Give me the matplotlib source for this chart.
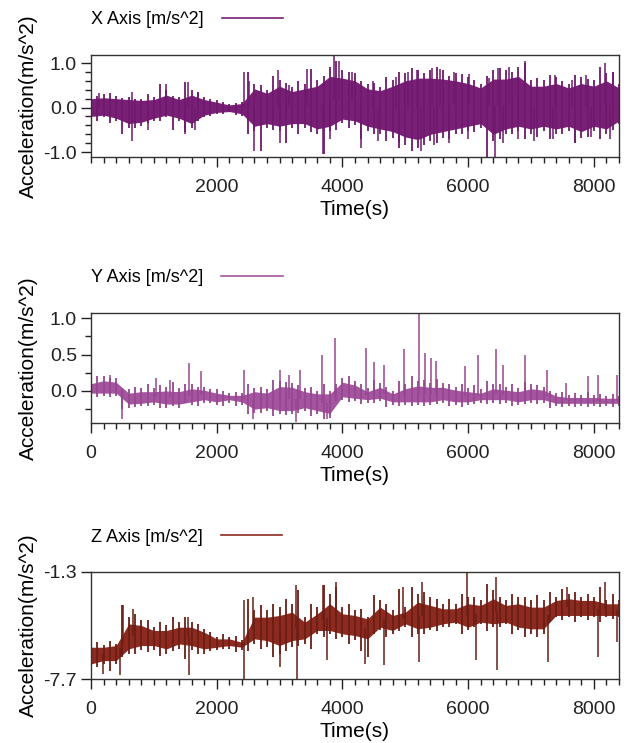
import matplotlib
matplotlib.use("Agg")
import matplotlib.pyplot as plt
import numpy as np
from matplotlib.lines import Line2D
from matplotlib.ticker import MultipleLocator, FixedLocator

plt.rcParams['font.family'] = ['Liberation Sans', 'DejaVu Sans']
plt.rcParams['axes.unicode_minus'] = False

# data: sample times (s); dense core band; outer extent at each sample and halfway between;
# isolated spikes (time, value)
t_grid = np.arange(0, 8401, 200)
t_half = t_grid[:-1] + 100

x_hi = [0.2, 0.22, 0.2, 0.18, 0.16, 0.18, 0.28, 0.18, 0.28, 0.18, 0.12, 0.06, 0.09, 0.42, 0.32,
        0.48, 0.36, 0.42, 0.48, 0.7, 0.66, 0.6, 0.42, 0.38, 0.48, 0.6, 0.66, 0.66, 0.64, 0.6,
        0.54, 0.44, 0.64, 0.64, 0.7, 0.48, 0.48, 0.54, 0.44, 0.54, 0.48, 0.6, 0.44]
x_lo = [-0.2, -0.17, -0.24, -0.36, -0.33, -0.24, -0.17, -0.24, -0.36, -0.17, -0.11, -0.09, -0.14,
        -0.42, -0.36, -0.42, -0.36, -0.36, -0.48, -0.42, -0.26, -0.3, -0.42, -0.48, -0.54, -0.66,
        -0.72, -0.6, -0.54, -0.48, -0.42, -0.36, -0.6, -0.48, -0.42, -0.48, -0.42, -0.48, -0.42,
        -0.54, -0.42, -0.48, -0.3]
x_out_hi = [0.27, 0.30, 0.27, 0.23, 0.20, 0.23, 0.39, 0.23, 0.39, 0.23, 0.16, 0.08, 0.12, 0.54,
            0.39, 0.61, 0.46, 0.54, 0.61, 0.92, 0.84, 0.77, 0.54, 0.46, 0.61, 0.77, 0.84, 0.84,
            0.84, 0.77, 0.69, 0.54, 0.84, 0.84, 0.92, 0.61, 0.61, 0.69, 0.54, 0.69, 0.61, 0.77, 0.54]
x_out_lo = [-0.26, -0.21, -0.30, -0.45, -0.41, -0.30, -0.21, -0.30, -0.45, -0.21, -0.14, -0.11,
            -0.18, -0.53, -0.45, -0.53, -0.45, -0.45, -0.6, -0.53, -0.35, -0.4, -0.52, -0.6,
            -0.68, -0.83, -0.9, -0.75, -0.68, -0.6, -0.52, -0.45, -0.75, -0.6, -0.52, -0.6,
            -0.52, -0.6, -0.52, -0.68, -0.52, -0.6, -0.37]
x_half_hi = [0.25, 0.33, 0.22, 0.2, 0.3, 0.54, 0.26, 0.57, 0.35, 0.2, 0.12, 0.1,
             0.8, 0.5, 0.7, 0.55, 0.6, 0.86, 0.7, 1.05,
             0.8, 0.6, 0.55, 0.68, 0.8, 0.88, 0.78, 0.9, 0.7, 0.75, 0.62, 0.7, 0.88, 0.8, 1.0,
             0.66, 0.72, 0.6, 0.74, 0.64, 0.9, 0.8]
x_half_lo = [-0.3, -0.35, -0.6, -0.45, -0.35, -0.3, -0.5, -0.55, -0.3, -0.2, -0.14, -0.16,
             -0.6, -0.98, -0.5, -0.79, -0.6, -0.55, -1.05, -0.5,
             -0.45, -0.7, -0.6, -0.75, -0.9, -0.98, -0.85, -0.8, -0.7, -0.6, -0.55, -1.1, -0.7,
             -0.6, -0.7, -0.65, -0.7, -0.6, -0.8, -0.65, -0.7, -0.5]
x_spike_t = [120, 650, 1195, 1540, 1700, 2440, 2520, 2980, 3150, 3440, 3870, 3950,
             4150, 4480, 4850, 5050, 5180, 5420, 5560, 5780, 6020, 6330, 6480, 6650, 6900,
             7380, 7650, 7880, 8170, 8300,
             650, 900, 1500, 1650, 2590, 3000, 3690, 3800, 4300, 4560, 4900,
             5250, 5450, 5700, 6000, 6430, 6560, 6800, 7050, 7350, 7700, 7950, 8250]
x_spike_v = [0.33, 0.35, 0.54, 0.57, 0.33, 0.80, 0.6, 0.84, 0.5, 0.86, 1.15, 1.05,
             0.8, 0.6, 0.68, 0.8, 0.85, 0.88, 0.86, 0.8, 0.75, 0.66, 0.88, 0.9, 1.05,
             0.74, 0.62, 0.72, 1.0, 0.8,
             -0.75, -0.5, -0.6, -0.5, -0.98, -0.79, -1.05, -0.7, -0.9, -0.75, -0.8,
             -0.98, -0.85, -0.8, -0.7, -1.1, -0.8, -0.7, -0.75, -0.7, -0.8, -0.65, -0.7]

y_hi = [0.1, 0.14, 0.12, -0.03, -0.01, -0.01, 0.0, -0.01, 0.03, 0.01, -0.03, -0.06, -0.06, -0.01,
        -0.03, 0.06, 0.05, -0.01, -0.04, -0.04, 0.12, 0.08, -0.01, 0.05, -0.04, 0.03, 0.07, 0.05,
        0.05, 0.01, -0.01, -0.03, 0.03, 0.01, -0.01, 0.03, 0.01, -0.07, -0.09, -0.09, -0.09,
        -0.1, -0.1]
y_lo = [-0.03, -0.03, -0.03, -0.18, -0.17, -0.15, -0.18, -0.18, -0.15, -0.12, -0.15, -0.12,
        -0.15, -0.25, -0.23, -0.27, -0.27, -0.23, -0.27, -0.31, -0.08, -0.1, -0.12, -0.1, -0.15,
        -0.15, -0.15, -0.15, -0.12, -0.15, -0.15, -0.12, -0.12, -0.12, -0.15, -0.12, -0.12,
        -0.17, -0.17, -0.17, -0.17, -0.17, -0.17]
y_out_hi = [0.16, 0.2, 0.18, 0.02, 0.04, 0.04, 0.06, 0.04, 0.09, 0.06, 0.02, -0.03, -0.03, 0.04,
            0.02, 0.13, 0.11, 0.04, 0.0, 0.0, 0.18, 0.13, 0.04, 0.11, 0.0, 0.09, 0.13, 0.11, 0.11,
            0.06, 0.04, 0.02, 0.09, 0.06, 0.04, 0.09, 0.06, -0.03, -0.05, -0.05, -0.05, -0.07, -0.07]
y_out_lo = [-0.07, -0.07, -0.07, -0.23, -0.21, -0.19, -0.23, -0.23, -0.19, -0.16, -0.19, -0.16,
            -0.19, -0.30, -0.28, -0.32, -0.32, -0.28, -0.32, -0.37, -0.12, -0.14, -0.16, -0.14,
            -0.19, -0.19, -0.19, -0.19, -0.16, -0.19, -0.19, -0.16, -0.16, -0.16, -0.19, -0.16,
            -0.16, -0.21, -0.21, -0.21, -0.21, -0.21, -0.21]
y_half_hi = [0.2, 0.18, 0.03, 0.06, 0.1, 0.08, 0.12, 0.1, 0.05, 0.03, 0.0, -0.01,
             0.1, 0.06, 0.15, 0.12, 0.08, 0.06, 0.1, 0.1,
             0.2, 0.1, 0.15, 0.06, 0.14, 0.2, 0.15, 0.16, 0.1, 0.1, 0.08, 0.14, 0.1, 0.1, 0.12,
             0.08, 0.0, -0.02, -0.03, -0.02, -0.04, -0.04]
y_half_lo = [-0.08, -0.08, -0.25, -0.22, -0.2, -0.24, -0.2, -0.17, -0.2, -0.17, -0.2, -0.2,
             -0.32, -0.3, -0.34, -0.33, -0.3, -0.35, -0.38, -0.14,
             -0.15, -0.18, -0.16, -0.22, -0.2, -0.21, -0.2, -0.18, -0.2, -0.22, -0.18, -0.18,
             -0.18, -0.2, -0.18, -0.18, -0.23, -0.22, -0.22, -0.22, -0.22, -0.22]
y_spike_t = [300, 497, 1037, 1250, 1566, 1757, 2430, 2580, 3010, 3150, 3260, 3320, 3672, 3750,
             3889, 4380, 4500, 4660, 4978, 5226, 5306, 5411, 5490, 5957, 6163, 6438, 6550, 6904,
             7253, 7554, 7900, 8068, 8375]
y_spike_v = [0.22, -0.38, 0.18, 0.15, 0.38, 0.28, 0.29, -0.39, 0.29, 0.22, -0.43, 0.29, 0.5,
             -0.39, 0.73, 0.59, 0.4, 0.35, 0.57, 1.05, 0.52, 0.45, 0.41, 0.34, 0.49, 0.57, 0.35,
             0.5, 0.29, 0.11, 0.2, 0.22, 0.22]

z_hi = [-5.8, -5.8, -5.7, -4.4, -4.5, -4.8, -4.8, -4.6, -4.6, -4.9, -5.3, -5.3, -5.5, -4.0, -4.0,
        -3.9, -3.7, -4.3, -3.8, -3.2, -3.8, -3.9, -4.1, -3.4, -3.9, -3.7, -3.1, -3.3, -3.5, -3.5,
        -3.2, -3.3, -2.9, -3.3, -3.2, -3.4, -3.4, -3.0, -2.9, -3.0, -3.0, -3.2, -3.2]
z_lo = [-6.8, -6.6, -6.6, -5.9, -5.7, -5.7, -5.9, -5.6, -5.7, -5.9, -5.8, -5.7, -5.8, -5.3, -5.4,
        -5.7, -5.4, -5.3, -4.8, -4.8, -5.0, -5.1, -5.3, -4.6, -4.8, -4.4, -4.7, -4.6, -4.4, -4.3,
        -4.6, -4.3, -4.4, -4.3, -4.6, -4.7, -4.7, -3.9, -3.9, -3.9, -3.9, -3.9, -3.9]
z_out_hi = [-5.69, -5.69, -5.59, -3.99, -4.19, -4.59, -4.49, -4.29, -4.29, -4.69, -5.19, -5.19,
            -5.39, -3.59, -3.59, -3.39, -3.19, -3.99, -3.39, -2.6, -3.39, -3.59, -3.99, -2.99,
            -3.59, -3.39, -2.6, -2.8, -3.19, -3.19, -2.8, -2.99, -2.4, -2.99, -2.8, -2.99, -2.99,
            -2.8, -2.6, -2.8, -2.8, -2.99, -2.99]
z_out_lo = [-6.98, -6.78, -6.78, -6.19, -5.99, -5.99, -6.19, -5.89, -5.99, -6.19, -5.99, -5.89,
            -5.99, -5.59, -5.79, -6.19, -5.79, -5.59, -4.99, -4.99, -5.19, -5.39, -6.39, -4.79,
            -4.99, -4.59, -4.99, -4.79, -4.59, -4.39, -4.79, -4.39, -4.59, -4.39, -4.79, -4.99,
            -4.99, -3.99, -3.99, -3.99, -3.99, -3.99, -3.99]
z_half_hi = [-5.5, -5.4, -3.3, -3.8, -4.2, -4.3, -4.0, -4.0, -4.4, -4.9, -5.0, -5.1,
             -2.9, -3.3, -3.2, -2.9, -2.4, -3.2, -2.1, -2.2,
             -3.2, -3.5, -2.7, -3.2, -2.3, -2.2, -2.5, -2.9, -2.9, -2.6, -2.8, -2.0, -2.8, -2.6,
             -2.8, -2.7, -2.5, -2.3, -2.5, -2.6, -2.2, -2.6]
z_half_lo = [-7.0, -7.2, -6.4, -6.2, -6.1, -6.3, -6.0, -6.5, -6.2, -6.0, -5.9, -6.1,
             -6.0, -5.9, -6.4, -6.0, -5.7, -5.9, -5.2, -5.3,
             -5.6, -6.0, -5.0, -5.2, -4.8, -5.2, -5.0, -4.8, -4.6, -5.0, -4.6, -4.8, -4.6, -5.0,
             -5.2, -5.2, -4.3, -4.2, -4.3, -4.2, -4.3, -4.1]
z_spike_t = [190, 455, 508, 667, 1540, 1560, 2430, 2440, 2582, 3010, 3259, 3275, 3693, 3750,
             3894, 4353, 4660, 4962, 5226, 5263, 5978, 6126, 6443, 6460, 7263, 7570, 8068, 8173,
             8375]
z_spike_v = [-7.38, -7.48, -3.29, -3.49, -3.99, -7.48, -7.68, -2.99, -2.8, -6.98, -2.1, -7.68,
             -2.1, -6.58, -1.9, -6.78, -6.88, -2.2, -6.68, -1.9, -1.3, -6.58, -1.6, -7.18, -6.68,
             -2.2, -6.38, -1.9, -5.49]

W, H = 628, 743
fig = plt.figure(figsize=(W / 100, H / 100), dpi=100)


def add_panel(top, bottom):
    return fig.add_axes([91 / W, 1 - bottom / H, 528 / W, (bottom - top) / H])


def draw(ax, hi, lo, out_hi, out_lo, half_hi, half_lo, st, sv, color, edge):
    hi = np.array(hi)
    lo = np.array(lo)
    ax.fill_between(t_grid, lo, hi, color=color, lw=0)
    ax.vlines(t_grid, out_lo, out_hi, color=edge, lw=1.3)
    ax.vlines(t_half, half_lo, half_hi, color=edge, lw=1.3)
    mid = np.interp(st, t_grid, (hi + lo) / 2)
    ax.vlines(st, mid, sv, color=edge, lw=1.1)
    ax.set_xlim(0, 8400)
    ax.xaxis.set_minor_locator(MultipleLocator(200))
    ax.tick_params(which='major', direction='out', length=7, width=1, labelsize=14, pad=3,
                   colors='#222222')
    ax.tick_params(which='minor', direction='out', length=4.5, width=1, colors='#222222')
    ax.tick_params(axis='x', which='major', pad=8.5)
    for s in ax.spines.values():
        s.set_color('#333333')
        s.set_linewidth(1)
    ax.set_xlabel('Time(s)', fontsize=15, labelpad=3)
    ax.set_ylabel('Acceleration(m/s^2)', fontsize=15)
    ax.yaxis.set_label_coords(-0.1, 0.5)
    return Line2D([], [], color=color, lw=1.2)


def add_legend(ax, h, text, height):
    ax.legend([h], [text], loc='center left', bbox_to_anchor=(0, 1 + 35 / height),
              frameon=False, markerfirst=False, handlelength=3.4, handletextpad=1.0,
              borderpad=0, borderaxespad=0, fontsize=13)


# X axis panel
ax1 = add_panel(55, 157)
h = draw(ax1, x_hi, x_lo, x_out_hi, x_out_lo, x_half_hi, x_half_lo, x_spike_t, x_spike_v,
         '#7a1f77', '#6e1a6c')
ax1.set_ylim(-1.11, 1.18)
ax1.set_xticks([2000, 4000, 6000, 8000])
ax1.set_yticks([-1.0, 0.0, 1.0])
ax1.set_yticklabels(['-1.0', '0.0', '1.0'])
ax1.yaxis.set_minor_locator(MultipleLocator(0.2))
add_legend(ax1, h, 'X Axis [m/s^2]', 102)

# Y axis panel
ax2 = add_panel(313, 423)
h = draw(ax2, y_hi, y_lo, y_out_hi, y_out_lo, y_half_hi, y_half_lo, y_spike_t, y_spike_v,
         '#a4559f', '#96478f')
ax2.set_ylim(-0.44, 1.07)
ax2.set_xticks([0, 2000, 4000, 6000, 8000])
ax2.set_yticks([0.0, 0.5, 1.0])
ax2.set_yticklabels(['0.0', '0.5', '1.0'])
ax2.yaxis.set_minor_locator(MultipleLocator(0.25))
add_legend(ax2, h, 'Y Axis [m/s^2]', 110)

# Z axis panel
ax3 = add_panel(572, 679)
h = draw(ax3, z_hi, z_lo, z_out_hi, z_out_lo, z_half_hi, z_half_lo, z_spike_t, z_spike_v,
         '#8c2a20', '#6a1e16')
ax3.set_ylim(-7.7, -1.3)
ax3.set_xticks([0, 2000, 4000, 6000, 8000])
ax3.set_yticks([-7.7, -1.3])
ax3.set_yticklabels(['-7.7', '-1.3'])
ax3.yaxis.set_minor_locator(FixedLocator([]))
add_legend(ax3, h, 'Z Axis [m/s^2]', 107)

fig.savefig('out.png', dpi=100)
